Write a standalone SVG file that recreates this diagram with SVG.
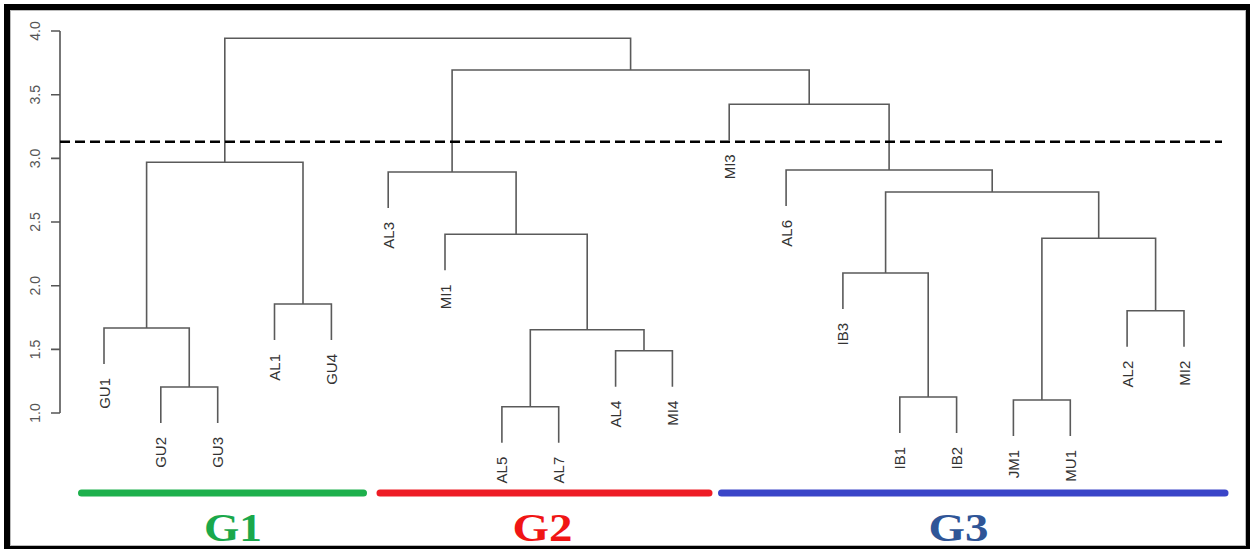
<svg xmlns="http://www.w3.org/2000/svg" width="1251" height="550" viewBox="0 0 1251 550">
<style>
.br{fill:none;stroke:#5a5a5a;stroke-width:1.6;stroke-linejoin:miter}
.lf{font-family:"Liberation Sans",Arial,sans-serif;font-size:15px;fill:#333;text-anchor:end}
.tk{font-family:"Liberation Sans",Arial,sans-serif;font-size:14px;fill:#555;text-anchor:middle}
.gl{font-family:"Liberation Serif","Times New Roman",serif;font-size:40px;font-weight:bold;text-anchor:middle}
.bar{stroke-width:7;stroke-linecap:round}
</style>
<rect x="0" y="0" width="1251" height="550" fill="#fff"/>
<path d="M4,4 H1250 V549 H4 Z M10,10 V546 H1246 V10 Z" fill="#000" fill-rule="evenodd"/>
<rect x="10.5" y="10.5" width="1235" height="535" fill="none" stroke="#bbb" stroke-width="1"/>
<g id="axis">
<path d="M60,31 V413 M51,31 H60 M51,94.7 H60 M51,158.4 H60 M51,222 H60 M51,285.7 H60 M51,349.4 H60 M51,413 H60" fill="none" stroke="#555" stroke-width="1.6"/>
<text class="tk" transform="translate(40,31) rotate(-90)">4.0</text>
<text class="tk" transform="translate(40,94.7) rotate(-90)">3.5</text>
<text class="tk" transform="translate(40,158.4) rotate(-90)">3.0</text>
<text class="tk" transform="translate(40,222) rotate(-90)">2.5</text>
<text class="tk" transform="translate(40,285.7) rotate(-90)">2.0</text>
<text class="tk" transform="translate(40,349.4) rotate(-90)">1.5</text>
<text class="tk" transform="translate(40,413) rotate(-90)">1.0</text>
</g>
<g id="connectors">
<path class="br" d="M160.8,423 V387 H217.7 V423"/>
<path class="br" d="M104,364 V328 H189.25 V387"/>
<path class="br" d="M274.5,340 V304 H331.4 V340"/>
<path class="br" d="M146.6,328 V162.3 H303 V304"/>
<path class="br" d="M501.9,442.7 V406.7 H558.7 V442.7"/>
<path class="br" d="M615.6,386.7 V350.7 H672.4 V386.7"/>
<path class="br" d="M530.3,406.7 V329.7 H644 V350.7"/>
<path class="br" d="M445,270.3 V234.3 H587.2 V329.7"/>
<path class="br" d="M388.2,208 V172 H516.1 V234.3"/>
<path class="br" d="M899.8,433 V397 H956.6 V433"/>
<path class="br" d="M842.9,309 V273 H928.2 V397"/>
<path class="br" d="M1013.4,436 V400 H1070.3 V436"/>
<path class="br" d="M1127.1,346.7 V310.7 H1184 V346.7"/>
<path class="br" d="M1041.9,400 V238.3 H1155.6 V310.7"/>
<path class="br" d="M885.6,273 V192 H1098.7 V238.3"/>
<path class="br" d="M786.1,206 V170 H992.2 V192"/>
<path class="br" d="M729.2,140.3 V104.3 H889.1 V170"/>
<path class="br" d="M452.1,172 V70 H809.2 V104.3"/>
<path class="br" d="M224.8,162.3 V38.3 H630.6 V70"/>
</g>
<g id="cutline">
<line x1="60" y1="141.7" x2="1222" y2="141.7" stroke="#000" stroke-width="2.5" stroke-dasharray="10 5"/>
</g>
<g id="leaf-GU1"><text class="lf" transform="translate(109.5,378) rotate(-90)">GU1</text></g>
<g id="leaf-GU2"><text class="lf" transform="translate(166.3,437) rotate(-90)">GU2</text></g>
<g id="leaf-GU3"><text class="lf" transform="translate(223.2,437) rotate(-90)">GU3</text></g>
<g id="leaf-AL1"><text class="lf" transform="translate(280,354) rotate(-90)">AL1</text></g>
<g id="leaf-GU4"><text class="lf" transform="translate(336.9,354) rotate(-90)">GU4</text></g>
<g id="leaf-AL3"><text class="lf" transform="translate(393.7,222) rotate(-90)">AL3</text></g>
<g id="leaf-MI1"><text class="lf" transform="translate(450.5,284.3) rotate(-90)">MI1</text></g>
<g id="leaf-AL5"><text class="lf" transform="translate(507.4,456.7) rotate(-90)">AL5</text></g>
<g id="leaf-AL7"><text class="lf" transform="translate(564.2,456.7) rotate(-90)">AL7</text></g>
<g id="leaf-AL4"><text class="lf" transform="translate(621.1,400.7) rotate(-90)">AL4</text></g>
<g id="leaf-MI4"><text class="lf" transform="translate(677.9,400.7) rotate(-90)">MI4</text></g>
<g id="leaf-MI3"><text class="lf" transform="translate(734.7,154.3) rotate(-90)">MI3</text></g>
<g id="leaf-AL6"><text class="lf" transform="translate(791.6,220) rotate(-90)">AL6</text></g>
<g id="leaf-IB3"><text class="lf" transform="translate(848.4,323) rotate(-90)">IB3</text></g>
<g id="leaf-IB1"><text class="lf" transform="translate(905.3,447) rotate(-90)">IB1</text></g>
<g id="leaf-IB2"><text class="lf" transform="translate(962.1,447) rotate(-90)">IB2</text></g>
<g id="leaf-JM1"><text class="lf" transform="translate(1018.9,450) rotate(-90)">JM1</text></g>
<g id="leaf-MU1"><text class="lf" transform="translate(1075.8,450) rotate(-90)">MU1</text></g>
<g id="leaf-AL2"><text class="lf" transform="translate(1132.6,360.7) rotate(-90)">AL2</text></g>
<g id="leaf-MI2"><text class="lf" transform="translate(1189.5,360.7) rotate(-90)">MI2</text></g>
<g id="group-G1">
<line class="bar" x1="81.5" y1="493" x2="363.5" y2="493" stroke="#1db04c"/>
<text class="gl" x="233" y="541" fill="#1aa84b" textLength="58" lengthAdjust="spacingAndGlyphs">G1</text>
</g>
<g id="group-G2">
<line class="bar" x1="380" y1="493" x2="709" y2="493" stroke="#ee1c25"/>
<text class="gl" x="542.5" y="541" fill="#f01515" textLength="60" lengthAdjust="spacingAndGlyphs">G2</text>
</g>
<g id="group-G3">
<line class="bar" x1="721.5" y1="493" x2="1225" y2="493" stroke="#3a45c8"/>
<text class="gl" x="958.5" y="541" fill="#2f5597" textLength="60" lengthAdjust="spacingAndGlyphs">G3</text>
</g>
</svg>
